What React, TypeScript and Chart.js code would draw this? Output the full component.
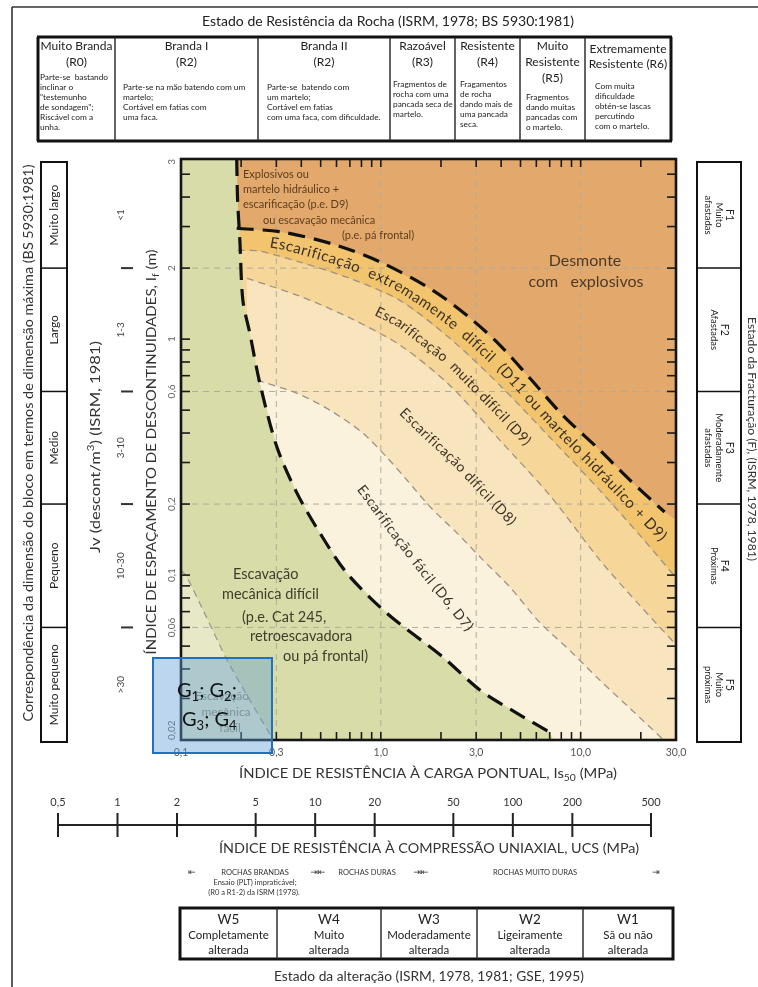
import { useEffect, useRef } from 'react';
import { Chart, registerables } from 'chart.js';

Chart.register(...registerables);

const W = 758;
const H = 987;
const FONT = 'Lato, "Open Sans", "DejaVu Sans", sans-serif';

// ---------- axes ----------
const X_MIN = 0.1;
const X_MAX = 30;
const Y_MIN = 0.02;
const Y_MAX = 5.8;
const xTickValues = [0.1, 0.3, 1, 3, 10, 30];
const xTickLabels = ['0,1', '0,3', '1,0', '3,0', '10,0', '30,0'];
const yTickValues = [0.02, 0.06, 0.1, 0.2, 0.6, 1, 2, 5.8];
const yTickLabels = ['0,02', '0,06', '0,1', '0,2', '0,6', '1', '2', '3'];
const xGridValues = [0.3, 1, 3, 10];
const yGridValues = [2, 0.6, 0.2, 0.06];

// ---------- region boundaries [Is50 (MPa), If (m)] ----------
const boundaryBlasting = [[0.19, 2.95], [0.324, 2.84], [0.6, 2.5], [1.02, 2.1], [1.82, 1.61], [2.79, 1.23], [3.94, 0.944], [5.56, 0.684], [8.13, 0.476], [12.45, 0.339], [17.6, 0.253], [26.3, 0.185]];
const boundaryBlastingEdge = [30, 0.171];
const boundaryExtreme = [[0.192, 2.38], [0.248, 2.36], [0.394, 2.12], [0.7, 1.81], [1.245, 1.46], [2.21, 1.01], [3.94, 0.638], [7.0, 0.384], [12.45, 0.229], [19.7, 0.148], [30, 0.0975]];
const boundaryVeryHard = [[0.214, 1.81], [0.394, 1.52], [0.7, 1.23], [1.245, 0.944], [2.21, 0.638], [3.94, 0.373], [7.0, 0.218], [12.45, 0.116], [19.7, 0.0746], [30, 0.0507]];
const boundaryHard = [[0.24, 0.67], [0.38, 0.59], [0.556, 0.5], [0.813, 0.4], [1.07, 0.316], [1.35, 0.253], [1.76, 0.195], [2.4, 0.151], [3.24, 0.116], [4.42, 0.089], [6.24, 0.063], [8.81, 0.048], [12.45, 0.0359], [17.6, 0.0273], [26, 0.02]];
const boundaryMechanical = [[0.19, 5.8], [0.192, 3.88], [0.197, 2.63], [0.204, 1.46], [0.221, 1.06], [0.248, 0.651], [0.302, 0.349], [0.38, 0.223], [0.495, 0.151], [0.676, 0.102], [1.07, 0.069], [2.04, 0.045], [3.13, 0.0326], [4.79, 0.026], [7.0, 0.0216]];
const boundaryMechanicalEnd = [7.3, 0.02];
const boundaryEasyDig = [[0.1, 0.105], [0.107, 0.098], [0.129, 0.071], [0.17, 0.0437], [0.221, 0.0295], [0.29, 0.02]];

// ---------- colours ----------
const cBlast = '#E3A96C';
const cExtreme = '#F2C46E';
const cVeryHard = '#F6D699';
const cHard = '#F9E5BD';
const cEasy = '#FBF2DE';
const cMech = '#D7DCA8';
const cEasyDig = '#E7E9C6';

// ---------- surrounding tables ----------
const strengthTitle = 'Estado de Resistência da Rocha (ISRM, 1978; BS 5930:1981)';
const strengthHeads = [['Muito Branda', '(R0)'], ['Branda I', '(R2)'], ['Branda II', '(R2)'], ['Razoável', '(R3)'], ['Resistente', '(R4)'], ['Muito', 'Resistente', '(R5)'], ['Extremamente', 'Resistente (R6)']];
const strengthDescs = [
  ['Parte-se  bastando', 'inclinar o', '"testemunho', 'de sondagem";', 'Riscável com a', 'unha.'],
  ['Parte-se na mão batendo com um', 'martelo;', 'Cortável em fatias com', 'uma faca.'],
  ['Parte-se  batendo com', 'um martelo;', 'Cortável em fatias', 'com uma faca, com dificuldade.'],
  ['Fragmentos de', 'rocha com uma', 'pancada seca de', 'martelo.'],
  ['Fragamentos', 'de rocha', 'dando mais de', 'uma pancada', 'seca.'],
  ['Fragmentos', 'dando muitas', 'pancadas com', 'o martelo.'],
  ['Com muita', 'dificuldade', 'obtén-se lascas', 'percutindo', 'com o martelo.'],
];
const blockTitle = 'Correspondência da dimensão do bloco em termos de dimensão máxima (BS 5930:1981)';
const blockSizes = ['Muito largo', 'Largo', 'Médio', 'Pequeno', 'Muito pequeno'];
const jvRanges = ['<1', '1-3', '3-10', '10-30', '>30'];
const fractureTitle = 'Estado da Fracturação (F), (ISRM, 1978, 1981)';
const fractureClasses = [['F1', 'Muito', 'afastadas'], ['F2', 'Afastadas'], ['F3', 'Moderadamente', 'afastadas'], ['F4', 'Próximas'], ['F5', 'Muito', 'próximas']];
const ucsValues = [0.5, 1, 2, 5, 10, 20, 50, 100, 200, 500];
const ucsLabels = ['0,5', '1', '2', '5', '10', '20', '50', '100', '200', '500'];
const rockClasses = ['ROCHAS BRANDAS', 'ROCHAS DURAS', 'ROCHAS MUITO DURAS'];
const rockNotes = ['Ensaio (PLT) impraticável;', '(R0 a R1-2) da ISRM (1978).'];
const weatherClasses = [['W5', 'Completamente', 'alterada'], ['W4', 'Muito', 'alterada'], ['W3', 'Moderadamente', 'alterada'], ['W2', 'Ligeiramente', 'alterada'], ['W1', 'Sã ou não', 'alterada']];
const weatherTitle = 'Estado da alteração (ISRM, 1978, 1981; GSE, 1995)';

// ---------- helpers ----------
const toPts = (a) => a.map(([x, y]) => ({ x, y }));

function richWidth(ctx, parts, size, weight) {
  let w = 0;
  for (const p of parts) {
    ctx.font = `${weight} ${size * (p.k ?? 1)}px ${FONT}`;
    w += ctx.measureText(p.t).width;
  }
  return w;
}

function drawRich(ctx, parts, cx, cy, angle, size, color, opts: any = {}) {
  const weight = opts.weight ?? 'normal';
  const w = richWidth(ctx, parts, size, weight);
  const sx = opts.targetW ? opts.targetW / w : 1;
  ctx.save();
  ctx.translate(cx, cy);
  ctx.rotate(angle);
  ctx.scale(sx, 1);
  ctx.fillStyle = color;
  ctx.textBaseline = 'middle';
  ctx.textAlign = 'left';
  let x = opts.align === 'left' ? 0 : opts.align === 'right' ? -w : -w / 2;
  for (const p of parts) {
    ctx.font = `${weight} ${size * (p.k ?? 1)}px ${FONT}`;
    ctx.fillText(p.t, x, (p.dy ?? 0) * size);
    x += ctx.measureText(p.t).width;
  }
  ctx.restore();
}

function text(ctx, t, x, y, size, color, opts: any = {}) {
  drawRich(ctx, [{ t }], x, y, opts.angle ?? 0, size, color, opts);
}

function interpY(curve, X) {
  const n = curve.length;
  let i = 0;
  if (X <= curve[0].x) i = 0;
  else if (X >= curve[n - 1].x) i = n - 2;
  else { while (i < n - 2 && curve[i + 1].x < X) i++; }
  const a = curve[i];
  const b = curve[i + 1];
  const t = (X - a.x) / (b.x - a.x || 1);
  return a.y + t * (b.y - a.y);
}

// text following the band between two boundary curves (pixel space)
function textAlongBand(ctx, t, top, bot, x0, x1, w0, w1, size, color, fit = false, baseGap = 0.4) {
  const path = [];
  for (let X = x0; X <= x1 + 0.01; X += 2) {
    const f = (X - x0) / (x1 - x0);
    const w = w0 + (w1 - w0) * f;
    const yt = interpY(top, X);
    const yb = interpY(bot, X);
    path.push({ x: X, y: yt + w * (yb - yt) });
  }
  const cum = [0];
  for (let i = 1; i < path.length; i++) cum.push(cum[i - 1] + Math.hypot(path[i].x - path[i - 1].x, path[i].y - path[i - 1].y));
  const L = cum[cum.length - 1];
  ctx.save();
  ctx.font = `normal ${size}px ${FONT}`;
  const chars = Array.from(t);
  const widths = chars.map((c) => ctx.measureText(c).width);
  const total = widths.reduce((s, v) => s + v, 0);
  const nSpaces = chars.filter((c) => c === ' ').length;
  let letterGap = baseGap;
  let spaceGap = 0;
  if (fit) {
    const extra = L - total;
    if (extra <= 0 || nSpaces === 0) {
      letterGap = Math.max(-0.6, extra / Math.max(1, chars.length - 1));
    } else {
      letterGap = Math.min(0.7, extra / Math.max(1, chars.length - 1));
      spaceGap = (extra - letterGap * (chars.length - 1)) / nSpaces;
    }
  }
  const at = (d) => {
    let i = 1;
    while (i < cum.length - 1 && cum[i] < d) i++;
    const a = path[i - 1];
    const b = path[i];
    const f = (d - cum[i - 1]) / (cum[i] - cum[i - 1] || 1);
    return { x: a.x + f * (b.x - a.x), y: a.y + f * (b.y - a.y) };
  };
  ctx.fillStyle = color;
  ctx.textBaseline = 'middle';
  ctx.textAlign = 'center';
  let d = 0;
  chars.forEach((c, k) => {
    const w = widths[k];
    if (c !== ' ') {
      const m = at(d + w / 2);
      const p1 = at(d);
      const p2 = at(d + w);
      const ang = Math.atan2(p2.y - p1.y, p2.x - p1.x);
      ctx.save();
      ctx.translate(m.x, m.y);
      ctx.rotate(ang);
      ctx.fillText(c, 0, 0);
      ctx.restore();
    }
    d += w + letterGap + (c === ' ' ? spaceGap : 0);
  });
  ctx.restore();
}

function minorValues(lo, hi) {
  const out = [];
  for (let e = -2; e <= 2; e++) {
    for (let m = 1; m <= 9; m++) {
      const v = m * Math.pow(10, e);
      if (v > lo * 1.0001 && v < hi * 0.9999) out.push(v);
    }
  }
  return out;
}

function line(ctx, x1, y1, x2, y2, w, color, dash = []) {
  ctx.save();
  ctx.beginPath();
  ctx.strokeStyle = color;
  ctx.lineWidth = w;
  ctx.setLineDash(dash);
  ctx.moveTo(x1, y1);
  ctx.lineTo(x2, y2);
  ctx.stroke();
  ctx.restore();
}

// ---------- datasets ----------
const fillSet = (pts, color, order) => ({
  data: toPts(pts), fill: 'shape', backgroundColor: color, borderColor: 'rgba(0,0,0,0)', borderWidth: 0,
  pointRadius: 0, pointHoverRadius: 0, tension: 0, order,
});
const lineSet = (pts, color, width, dash, order) => ({
  data: toPts(pts), fill: false, borderColor: color, borderWidth: width, borderDash: dash, borderCapStyle: 'butt',
  pointRadius: 0, pointHoverRadius: 0, tension: 0.3, order,
});

function buildDatasets() {
  return [
    fillSet([[X_MIN, Y_MAX], [X_MAX, Y_MAX], [X_MAX, Y_MIN], [X_MIN, Y_MIN]], cBlast, 30),
    fillSet([...boundaryBlasting, boundaryBlastingEdge, [X_MAX, Y_MIN], [boundaryBlasting[0][0], Y_MIN]], cExtreme, 29),
    fillSet([...boundaryExtreme, [X_MAX, Y_MIN], [boundaryExtreme[0][0], Y_MIN]], cVeryHard, 28),
    fillSet([...boundaryVeryHard, [X_MAX, Y_MIN], [boundaryVeryHard[0][0], Y_MIN]], cHard, 27),
    fillSet([...boundaryHard, [boundaryHard[0][0], Y_MIN]], cEasy, 26),
    fillSet([...boundaryMechanical, boundaryMechanicalEnd, [X_MIN, Y_MIN], [X_MIN, Y_MAX]], cMech, 25),
    fillSet([...boundaryEasyDig, [X_MIN, Y_MIN]], cEasyDig, 24),
    lineSet(boundaryExtreme, '#9c9385', 1.3, [7, 5], 6),
    lineSet(boundaryVeryHard, '#9c9385', 1.3, [7, 5], 5),
    lineSet(boundaryHard, '#9c9385', 1.3, [7, 5], 4),
    lineSet(boundaryEasyDig, '#9c9a8a', 1.3, [7, 5], 3),
    lineSet(boundaryBlasting, '#111', 3.2, [17, 9], 2),
    lineSet(boundaryMechanical, '#111', 3.2, [17, 9], 1),
  ];
}
const GRID_AFTER_INDEX = 6;

const decorPlugin = {
  id: 'decor',
  afterDatasetDraw(chart, args) {
    if (args.index !== GRID_AFTER_INDEX) return;
    const { ctx, chartArea: a, scales } = chart;
    for (const v of xGridValues) {
      const x = scales.x.getPixelForValue(v);
      line(ctx, x, a.top, x, a.bottom, 1, '#b3aa9a', [6, 5]);
    }
    for (const v of yGridValues) {
      const y = scales.y.getPixelForValue(v);
      line(ctx, a.left, y, a.right, y, 1, '#b3aa9a', [6, 5]);
    }
  },
  afterDatasetsDraw(chart) {
    const { ctx, chartArea: a, scales } = chart;
    const sx = (v) => scales.x.getPixelForValue(v);
    const sy = (v) => scales.y.getPixelForValue(v);
    const pix = (arr) => arr.map(([x, y]) => ({ x: sx(x), y: sy(y) }));

    // inner ticks
    for (const v of minorValues(X_MIN, X_MAX)) {
      const x = sx(v);
      line(ctx, x, a.bottom, x, a.bottom - 8, 1.6, '#1a1a1a');
      line(ctx, x, a.top, x, a.top + 8, 1.6, '#1a1a1a');
    }
    for (const v of minorValues(Y_MIN, Y_MAX)) {
      const y = sy(v);
      line(ctx, a.left, y, a.left + 9, y, 1.6, '#1a1a1a');
      line(ctx, a.right, y, a.right - 9, y, 1.6, '#1a1a1a');
    }
    ctx.save();
    ctx.strokeStyle = '#151515';
    ctx.lineWidth = 2.6;
    ctx.strokeRect(a.left, a.top, a.right - a.left, a.bottom - a.top);
    ctx.restore();

    // band labels
    const A = pix([...boundaryBlasting, boundaryBlastingEdge]);
    const L1 = pix(boundaryExtreme);
    const L2 = pix(boundaryVeryHard);
    const L3 = pix(boundaryHard);
    const G = pix(boundaryMechanical);
    const tc = '#3b3127';
    textAlongBand(ctx, 'Escarificação  extremamente  difícil  (D11 ou martelo hidráulico + D9)', A, L1, 270, 664, 0.5, 0.52, 15, tc, true);
    textAlongBand(ctx, 'Escarificação  muito difícil (D9)', L1, L2, 376, 600, 0.5, 0.5, 14, tc, false, 0.45);
    textAlongBand(ctx, 'Escarificação difícil (D8)', L2, L3, 402, 620, 0.5, 0.5, 14, tc, false, 0.5);
    textAlongBand(ctx, 'Escarificação fácil (D6, D7)', L3, G, 360, 492, 0.36, 0.66, 14, tc, false, 0.6);

    // region texts
    const brown = '#5c3d1e';
    text(ctx, 'Explosivos ou', 243, 174, 11, brown, { align: 'left' });
    text(ctx, 'martelo hidráulico +', 243, 189, 11, brown, { align: 'left' });
    text(ctx, 'escarificação (p.e. D9)', 243, 204, 11, brown, { align: 'left' });
    text(ctx, 'ou escavação mecânica', 263, 220, 11, brown, { align: 'left' });
    text(ctx, '(p.e. pá frontal)', 342, 235, 11, brown, { align: 'left' });
    text(ctx, 'Desmonte', 585, 261, 16, '#4d3a26');
    text(ctx, 'com   explosivos', 586, 282, 16, '#4d3a26');
    const gc = '#3e3d2c';
    text(ctx, 'Escavação', 233, 574, 14.5, gc, { align: 'left' });
    text(ctx, 'mecânica difícil', 222, 594, 14.5, gc, { align: 'left' });
    text(ctx, '(p.e. Cat 245,', 242, 617, 14.5, gc, { align: 'left' });
    text(ctx, 'retroescavadora', 250, 636, 14.5, gc, { align: 'left' });
    text(ctx, 'ou pá frontal)', 283, 656, 14.5, gc, { align: 'left' });
    const fc = '#8d8d72';
    text(ctx, 'Escavação', 222, 696, 12, fc);
    text(ctx, 'mecânica', 226, 712, 12, fc);
    text(ctx, 'fácil', 230, 728, 12, fc);
  },
  afterDraw(chart) {
    const { ctx, chartArea: a, scales } = chart;
    const sx = (v) => scales.x.getPixelForValue(v);
    const sy = (v) => scales.y.getPixelForValue(v);
    const dark = '#222';

    // frame
    line(ctx, 12, 7, W, 7, 1.6, '#333');
    line(ctx, 12, 7, 12, H, 1.6, '#333');

    // tick labels
    xTickValues.forEach((v, i) => text(ctx, xTickLabels[i], sx(v), 753, 10.5, '#555'));
    ctx.font = `normal 10px ${FONT}`;
    yTickValues.forEach((v, i) => {
      const w = ctx.measureText(yTickLabels[i]).width;
      let c = sy(v);
      c = Math.min(c, a.bottom - w / 2);
      c = Math.max(c, a.top + w / 2);
      text(ctx, yTickLabels[i], 172, c, 10, '#666', { angle: -Math.PI / 2 });
    });

    // axis titles
    drawRich(ctx, [{ t: 'ÍNDICE DE RESISTÊNCIA À CARGA PONTUAL, Is' }, { t: '50', k: 0.7, dy: 0.35 }, { t: ' (MPa)' }], 428, 773, 0, 14, '#333', { targetW: 378 });
    drawRich(ctx, [{ t: 'ÍNDICE DE ESPAÇAMENTO DE DESCONTINUIDADES, I' }, { t: 'f', k: 0.7, dy: 0.35 }, { t: ' (m)' }], 151, 452, -Math.PI / 2, 14, '#333', { targetW: 405 });
    drawRich(ctx, [{ t: 'Jv (descont/m' }, { t: '3', k: 0.7, dy: -0.35 }, { t: ') (ISRM, 1981)' }], 96, 447, -Math.PI / 2, 13, '#333', { targetW: 212 });

    // row boundaries shared by side tables
    const rows = [a.top + 3, ...yGridValues.map((v) => sy(v)), a.bottom + 2];

    // left table
    const lt = { l: 41, r: 67 };
    ctx.save();
    ctx.strokeStyle = '#111';
    ctx.lineWidth = 2;
    ctx.strokeRect(lt.l, rows[0], lt.r - lt.l, rows[5] - rows[0]);
    ctx.restore();
    for (let i = 1; i < 5; i++) line(ctx, lt.l, rows[i], lt.r, rows[i], 1.5, '#111');
    blockSizes.forEach((s, i) => text(ctx, s, (lt.l + lt.r) / 2, (rows[i] + rows[i + 1]) / 2, 12, dark, { angle: -Math.PI / 2 }));
    text(ctx, blockTitle, 29, 443, 12.5, '#333', { angle: -Math.PI / 2, targetW: 557 });

    // Jv ranges
    jvRanges.forEach((s, i) => text(ctx, s, 121, (rows[i] + rows[i + 1]) / 2, 10, '#444', { angle: -Math.PI / 2 }));
    for (let i = 1; i < 5; i++) line(ctx, 121, rows[i], 133, rows[i], 2, '#333');

    // right table
    const rt = { l: 697, r: 741 };
    ctx.save();
    ctx.strokeStyle = '#111';
    ctx.lineWidth = 2;
    ctx.strokeRect(rt.l, rows[0], rt.r - rt.l, rows[5] - rows[0]);
    ctx.restore();
    for (let i = 1; i < 5; i++) line(ctx, rt.l, rows[i], rt.r, rows[i], 1.5, '#111');
    fractureClasses.forEach((lines, i) => {
      const cy = (rows[i] + rows[i + 1]) / 2;
      const cx = (rt.l + rt.r) / 2;
      const lh = 10.5;
      lines.forEach((s, j) => {
        const x = cx + ((lines.length - 1) / 2) * lh - j * lh;
        text(ctx, s, x, cy, j === 0 ? 10.5 : 9.5, dark, { angle: Math.PI / 2 });
      });
    });
    text(ctx, fractureTitle, 752, 439, 11, '#333', { angle: Math.PI / 2, targetW: 244 });

    // top strength table
    text(ctx, strengthTitle, 388, 22, 13.5, dark, { targetW: 372 });
    const cols = [38, 115, 258, 390, 455, 520, 585, 671];
    const tTop = 37;
    const tBot = 141;
    line(ctx, cols[0] - 1, tTop, cols[7] + 1, tTop, 3, '#111');
    line(ctx, cols[0] - 1, tBot, cols[7] + 1, tBot, 3, '#111');
    line(ctx, cols[0], tTop, cols[0], tBot, 3, '#111');
    line(ctx, cols[7], tTop, cols[7], tBot, 3, '#111');
    for (let i = 1; i < 7; i++) line(ctx, cols[i], tTop, cols[i], tBot, 1.4, '#222');
    const headY = [[46, 62], [46, 62], [46, 62], [46, 62], [46, 62], [46, 62, 78], [49, 64]];
    strengthHeads.forEach((hs, i) => {
      const cx = (cols[i] + cols[i + 1]) / 2;
      hs.forEach((s, j) => text(ctx, s, cx, headY[i][j], 12, dark));
    });
    const descX = [40, 123, 267, 393, 460, 526, 595];
    const descY = [77, 87, 87, 84, 84, 97, 86];
    strengthDescs.forEach((ds, i) => {
      ds.forEach((s, j) => text(ctx, s, descX[i], descY[i] + j * 10, 8.3, dark, { align: 'left' }));
    });

    // UCS scale
    const uL = 58;
    const uR = 651;
    const ux = (v) => uL + ((Math.log10(v) - Math.log10(ucsValues[0])) / (Math.log10(ucsValues[ucsValues.length - 1]) - Math.log10(ucsValues[0]))) * (uR - uL);
    const uy = 825;
    line(ctx, uL, uy, uR, uy, 2, '#222');
    ucsValues.forEach((v, i) => {
      line(ctx, ux(v), uy - 12, ux(v), uy + 12, 2, '#222');
      text(ctx, ucsLabels[i], ux(v), 802, 11, '#333');
    });
    text(ctx, 'ÍNDICE DE RESISTÊNCIA À COMPRESSÃO UNIAXIAL, UCS (MPa)', 429, 848, 14, '#333', { targetW: 420 });

    // rock classes
    const ry = 873;
    const ar = `normal 9px "DejaVu Sans", sans-serif`;
    const arrow = (s, x) => { ctx.save(); ctx.font = ar; ctx.fillStyle = '#333'; ctx.textAlign = 'center'; ctx.textBaseline = 'middle'; ctx.fillText(s, x, ry); ctx.restore(); };
    arrow('⇤', 192);
    arrow('⇥⇤', 318);
    arrow('⇥⇤', 421);
    arrow('⇥', 656);
    text(ctx, rockClasses[0], 255, ry, 7.5, '#333');
    text(ctx, rockNotes[0], 255, ry + 10, 7.5, '#333');
    text(ctx, rockNotes[1], 254, ry + 20, 7.5, '#333');
    text(ctx, rockClasses[1], 367, ry, 7.5, '#333');
    text(ctx, rockClasses[2], 535, ry, 7.5, '#333');

    // weathering table
    const wc = [180, 277, 381, 477, 583, 673];
    const wTop = 908;
    const wBot = 959;
    ctx.save();
    ctx.strokeStyle = '#111';
    ctx.lineWidth = 3;
    ctx.strokeRect(wc[0], wTop, wc[5] - wc[0], wBot - wTop);
    ctx.restore();
    for (let i = 1; i < 5; i++) line(ctx, wc[i], wTop, wc[i], wBot, 1.4, '#222');
    weatherClasses.forEach((ls, i) => {
      const cx = (wc[i] + wc[i + 1]) / 2;
      text(ctx, ls[0], cx, 920, 13.5, dark);
      text(ctx, ls[1], cx, 935, 11.5, dark);
      text(ctx, ls[2], cx, 950, 11.5, dark);
    });
    text(ctx, weatherTitle, 429, 977, 13.5, '#333', { targetW: 310 });

    // highlighted box
    ctx.save();
    ctx.fillStyle = 'rgba(96,158,214,0.42)';
    ctx.fillRect(153, 658, 119, 95);
    ctx.strokeStyle = '#1f70c0';
    ctx.lineWidth = 2;
    ctx.strokeRect(153, 658, 119, 95);
    ctx.restore();
    const g = (x, y, a1, a2, tail) => drawRich(ctx, [{ t: 'G' }, { t: a1, k: 0.65, dy: 0.28 }, { t: '; G' }, { t: a2, k: 0.65, dy: 0.28 }, { t: tail }], x, y, 0, 20, '#111', { align: 'left' });
    g(177, 691, '1', '2', ';');
    g(182, 720, '3', '4', '');
  },
};

export default function App() {
  const ref = useRef<HTMLCanvasElement>(null);
  useEffect(() => {
    const canvas = ref.current;
    if (!canvas) return;
    const chart = new Chart(canvas, {
      type: 'line',
      data: { datasets: buildDatasets() as any },
      options: {
        animation: false,
        responsive: false,
        devicePixelRatio: 1,
        events: [],
        layout: { padding: { left: 181, right: W - 676, top: 159, bottom: H - 740 } },
        plugins: { legend: { display: false }, tooltip: { enabled: false }, title: { display: false } },
        scales: {
          x: { type: 'logarithmic', min: X_MIN, max: X_MAX, display: false },
          y: { type: 'logarithmic', min: Y_MIN, max: Y_MAX, display: false },
        },
      },
      plugins: [decorPlugin],
    });
    return () => chart.destroy();
  }, []);
  return (
    <canvas
      ref={ref}
      width={W}
      height={H}
      style={{ position: 'absolute', left: 0, top: 0, width: W, height: H, background: '#fff' }}
    />
  );
}
